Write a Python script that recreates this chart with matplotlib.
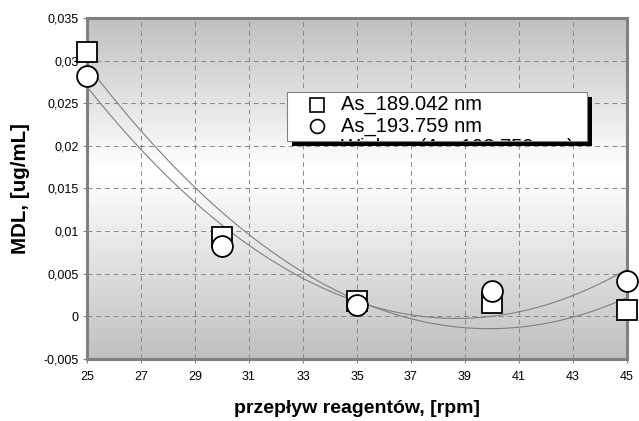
import numpy as np
import matplotlib.pyplot as plt
from matplotlib.patches import Rectangle

plt.rcParams['font.family'] = ['Liberation Sans', 'DejaVu Sans']

# ---------- Data ---------- #
flow = np.array([25, 30, 35, 40, 45])                      # rpm
mdl_189 = np.array([0.0310, 0.0093, 0.0018, 0.0016, 0.0007])  # As_189.042 nm
mdl_193 = np.array([0.0282, 0.0083, 0.0013, 0.0030, 0.0041])  # As_193.759 nm

labels = ["As_189.042 nm", "As_193.759 nm", "Wielom. (As_193.759 nm)"]
x_ticks = np.arange(25, 46, 2)
y_ticks = np.arange(-0.005, 0.0351, 0.005)


def pl_fmt(v):
    s = f"{v:.3f}".rstrip("0").rstrip(".")
    if s in ("-0", ""):
        s = "0"
    return s.replace(".", ",")


# ---------- Figure ---------- #
fig = plt.figure(figsize=(6.39, 4.21), dpi=100)
ax = fig.add_axes([87 / 639, 1 - 359 / 421, 540 / 639, 341 / 421])

# gradient background: grey top, white around 0.017, grey bottom
grad = np.concatenate([np.linspace(0.75, 1.0, 45), np.linspace(1.0, 0.75, 55)])
ax.imshow(grad[:, None], cmap="gray", vmin=0, vmax=1, aspect="auto",
          extent=[25, 45, -0.005, 0.035], zorder=0, interpolation="bicubic")

ax.set_xlim(25, 45)
ax.set_ylim(-0.005, 0.035)
ax.set_xticks(x_ticks)
ax.set_yticks(y_ticks)
ax.set_yticklabels([pl_fmt(v) for v in y_ticks])
ax.tick_params(labelsize=9, length=3, width=0.8, color="#808080", pad=3)
ax.tick_params(axis="x", pad=6)
ax.grid(True, color="#888888", linestyle=(0, (5, 4)), linewidth=0.7, zorder=1)
for s in ax.spines.values():
    s.set_color("#808080")
    s.set_linewidth(2.2)

# ---------- Trend lines (2nd order) ---------- #
xx = np.linspace(25, 45, 200)
for y in (mdl_189, mdl_193):
    c = np.polyfit(flow, y, 2)
    ax.plot(xx, np.polyval(c, xx), color="#7f7f7f", lw=0.8, zorder=2)

ax.plot(flow, mdl_189, ls="none", marker="s", ms=15, mfc="white", mec="black",
        mew=1.3, zorder=3, clip_on=False)
ax.plot(flow, mdl_193, ls="none", marker="o", ms=15, mfc="white", mec="black",
        mew=1.3, zorder=4, clip_on=False)

ax.set_xlabel("przepływ reagentów, [rpm]", fontsize=14, fontweight="bold",
              labelpad=12)
ax.set_ylabel("MDL, [ug/mL]", fontsize=14.8, fontweight="bold", labelpad=10)

# ---------- Legend box (clipped, with shadow) ---------- #
W, H = 639, 421
bx, by, bw, bh = 287, 92, 300, 49
shadow = Rectangle(((bx + 5) / W, 1 - (by + bh + 5) / H), bw / W, bh / H,
                   transform=fig.transFigure, facecolor="black", zorder=10)
box = Rectangle((bx / W, 1 - (by + bh) / H), bw / W, bh / H,
                transform=fig.transFigure, facecolor="white",
                edgecolor="#808080", lw=0.8, zorder=11)
fig.patches.extend([shadow, box])

markers = ["s", "o", None]
rows = [105, 126, 147]
for lab, mk, ry in zip(labels, markers, rows):
    t = fig.text(341 / W, 1 - ry / H, lab, fontsize=14.5, va="center",
                 ha="left", zorder=12)
    t.set_clip_path(box)
    if mk:
        fig.lines.append(plt.Line2D([317 / W], [1 - ry / H], marker=mk, ms=10,
                                    mfc="white", mec="black", mew=1.2,
                                    transform=fig.transFigure, zorder=12))

fig.savefig("out.png", dpi=100)
